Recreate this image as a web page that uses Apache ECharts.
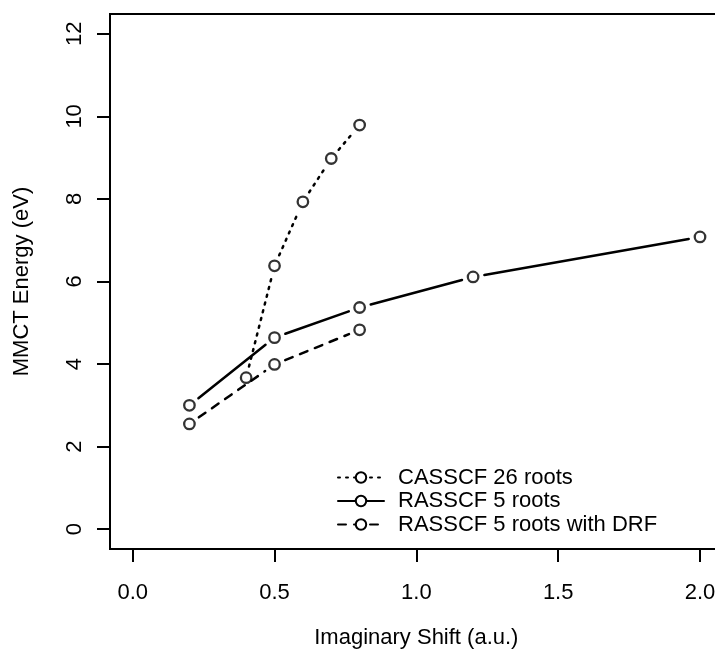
<!DOCTYPE html>
<html>
<head>
<meta charset="utf-8">
<script src="https://cdn.jsdelivr.net/npm/echarts@6/dist/echarts.min.js"></script>
<style>html,body{margin:0;padding:0;background:#fff;overflow:hidden}#c{width:715px;height:656px}</style>
</head>
<body>
<div id="c"></div>
<script>
// Data
const casX = [0.4, 0.5, 0.6, 0.7, 0.8];
const casY = [3.67, 6.38, 7.93, 8.98, 9.79];
const rasX = [0.2, 0.5, 0.8, 1.2, 2.0];
const rasY = [3.00, 4.64, 5.37, 6.11, 7.08];
const drfX = [0.2, 0.5, 0.8];
const drfY = [2.55, 3.99, 4.83];
const seriesNames = ['CASSCF 26 roots', 'RASSCF 5 roots', 'RASSCF 5 roots with DRF'];
const xTicks = [0, 0.5, 1.0, 1.5, 2.0];
const yTicks = [0, 2, 4, 6, 8, 10, 12];
// plot region limits (R style 4% extension)
const xLim = [-0.08, 2.08];
const yLim = [-0.48, 12.48];

const zip = (xs, ys) => xs.map((x, i) => [x, ys[i]]);
const FONT = 'Liberation Sans, Arial, Helvetica, sans-serif';
const FS = 22;
const LW = 2.5;
const GAP = 11.5;
const SYM = 10.5;

// legend-only line series (no data drawn)
function legendSeries(name, dash) {
  return {
    name: name, type: 'line', data: [],
    symbol: 'circle', symbolSize: SYM,
    lineStyle: { color: '#000', width: LW, type: dash, cap: 'round' },
    itemStyle: { color: '#fff', borderColor: '#000', borderWidth: 2.3 },
    silent: true, animation: false
  };
}
// R type="b": segments between points, leaving a gap around each point
function segSeries(xs, ys, dash) {
  return {
    type: 'custom', data: zip(xs, ys), encode: { x: 0, y: 1 }, z: 3,
    silent: true, animation: false, clip: false,
    renderItem: function (params, api) {
      const i = params.dataIndex;
      if (i === 0) return null;
      const a = api.coord([xs[i - 1], ys[i - 1]]);
      const b = api.coord([api.value(0), api.value(1)]);
      const dx = b[0] - a[0], dy = b[1] - a[1];
      const L = Math.hypot(dx, dy);
      if (L <= 2 * GAP) return null;
      const ux = dx / L, uy = dy / L;
      return {
        type: 'line',
        shape: { x1: a[0] + ux * GAP, y1: a[1] + uy * GAP, x2: b[0] - ux * GAP, y2: b[1] - uy * GAP },
        style: { stroke: '#000', lineWidth: LW, lineDash: dash, lineCap: 'round', fill: null }
      };
    }
  };
}
function markerSeries(xs, ys) {
  return {
    type: 'scatter', data: zip(xs, ys), z: 5, symbol: 'circle', symbolSize: SYM,
    itemStyle: { color: 'rgba(0,0,0,0)', borderColor: '#000', borderWidth: 2.3 },
    silent: true, animation: false
  };
}

const chart = echarts.init(document.getElementById('c'), null, { renderer: 'canvas' });
chart.setOption({
  backgroundColor: '#fff',
  animation: false,
  textStyle: { fontFamily: FONT },
  grid: { left: 110, top: 14, width: 612.7, height: 535, containLabel: false,
    outerBoundsMode: 'none',
    show: true, borderColor: '#000', borderWidth: 2, backgroundColor: 'transparent' },
  xAxis: {
    type: 'value', min: xLim[0], max: xLim[1],
    axisLine: { show: false, onZero: false },
    axisTick: { show: true, length: 13, customValues: xTicks, lineStyle: { color: '#000', width: 2 } },
    axisLabel: { color: '#000', fontSize: FS, fontFamily: FONT, margin: 33, customValues: xTicks,
      formatter: v => v.toFixed(1) },
    splitLine: { show: false },
    name: 'Imaginary Shift (a.u.)', nameLocation: 'middle', nameGap: 78,
    nameTextStyle: { color: '#000', fontSize: FS, fontFamily: FONT }
  },
  yAxis: {
    type: 'value', min: yLim[0], max: yLim[1],
    axisLine: { show: false, onZero: false },
    axisTick: { show: true, length: 13, customValues: yTicks, lineStyle: { color: '#000', width: 2 } },
    axisLabel: { color: '#000', fontSize: FS, fontFamily: FONT, margin: 24, rotate: 90, customValues: yTicks },
    splitLine: { show: false },
    name: 'MMCT Energy (eV)', nameLocation: 'middle', nameGap: 77,
    nameTextStyle: { color: '#000', fontSize: FS, fontFamily: FONT }
  },
  legend: {
    orient: 'vertical', left: 337, top: 466, itemWidth: 46, itemHeight: 13, itemGap: 0.5,
    padding: 0, data: seriesNames, selectedMode: false,
    textStyle: { color: '#000', fontSize: FS, fontFamily: FONT, lineHeight: 23, padding: [0, 0, 0, 9] }
  },
  series: [
    legendSeries(seriesNames[0], [2, 6]),
    legendSeries(seriesNames[1], 'solid'),
    legendSeries(seriesNames[2], [8, 8]),
    segSeries(casX, casY, [2, 6]),
    segSeries(rasX, rasY, null),
    segSeries(drfX, drfY, [8, 8]),
    markerSeries(casX, casY),
    markerSeries(rasX, rasY),
    markerSeries(drfX, drfY)
  ]
});
</script>
</body>
</html>
